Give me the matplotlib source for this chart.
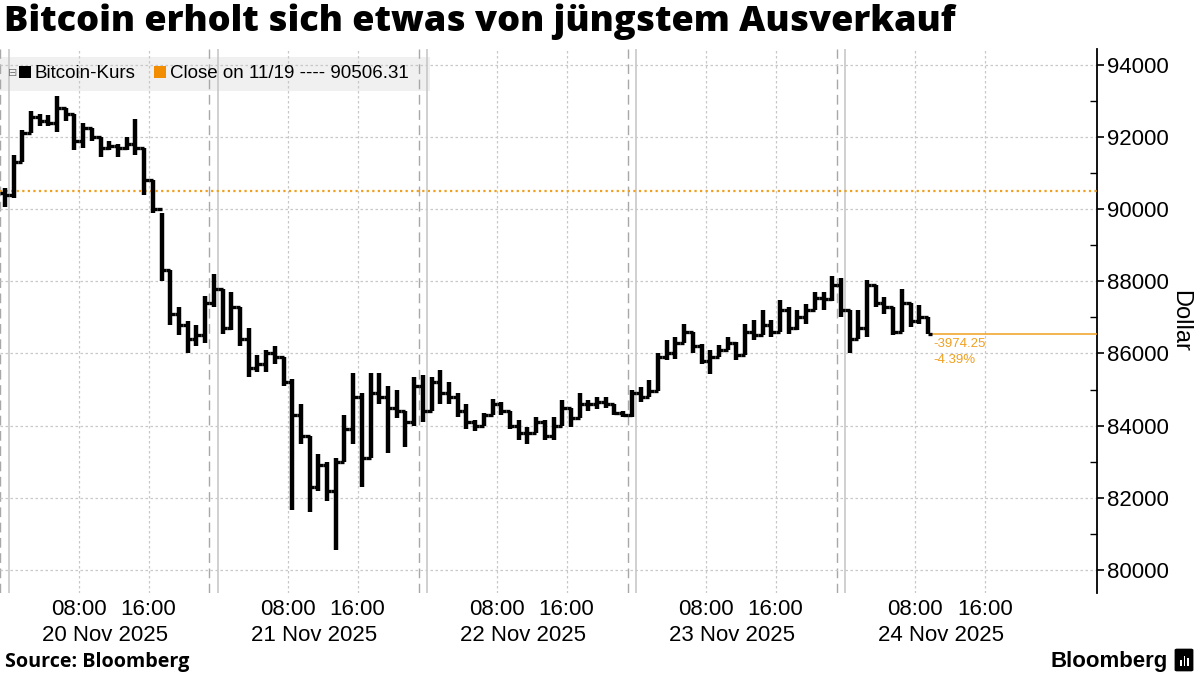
import numpy as np
import matplotlib
matplotlib.use("Agg")
import matplotlib.pyplot as plt
import matplotlib.dates as mdates
from matplotlib.patches import Rectangle, FancyBboxPatch
from datetime import datetime, timedelta

# hourly bars, hour offset from 20 Nov 2025 00:00
hours = list(range(-1, 106))
highs = [90600, 91500, 92200, 92730, 92650, 92600, 93150, 92800, 92650, 92400,
         92250, 92000, 91900, 91800, 92000, 92500, 91700, 90800, 89900, 88300,
         87300, 86900, 86800, 87600, 88200, 87800, 87700, 87300, 86700, 85950,
         86100, 86200, 85900, 85300, 84600, 83700, 83200, 83000, 83100, 84300,
         85450, 84900, 85450, 85450, 85100, 85000, 84400, 85350, 85400, 85350,
         85550, 85200, 84900, 84600, 84150, 84350, 84750, 84650, 84400, 84150,
         83950, 84250, 84150, 84250, 84700, 84500, 84900, 84700, 84800, 84800,
         84600, 84400, 85000, 85075, 85260, 86000, 86370, 86460, 86830, 86600,
         86270, 86090, 86230, 86460, 86320, 86830, 86920, 87200, 86920, 87470,
         87290, 87200, 87380, 87700, 87700, 88160, 88100, 87200, 87200, 88030,
         87900, 87570, 87300, 87800, 87400, 87330, 87000]
lows = [90050, 90300, 91300, 92100, 92300, 92300, 92150, 92450, 91650, 91700,
        91900, 91450, 91650, 91450, 91650, 91500, 90400, 89900, 88000, 86800,
        86500, 86000, 86200, 86300, 87300, 86550, 86650, 86200, 85350, 85500,
        85500, 85700, 85100, 81650, 83500, 81600, 82200, 81900, 80550, 83000,
        83500, 82300, 83100, 84600, 83250, 84200, 83400, 84000, 84100, 84400,
        84600, 84600, 84250, 83900, 83850, 84000, 84300, 84300, 83900, 83600,
        83500, 83800, 83600, 83600, 84000, 83950, 84200, 84400, 84450, 84500,
        84300, 84250, 84250, 84660, 84800, 84950, 85810, 85860, 86300, 86000,
        85720, 85440, 85900, 86100, 85810, 85950, 86370, 86500, 86460, 86600,
        86550, 86640, 86830, 87200, 87200, 87450, 87000, 86000, 86400, 86460,
        87290, 87100, 86500, 86600, 86740, 86830, 86532]
closes = [90400, 91300, 92100, 92550, 92450, 92400, 92800, 92650, 91900, 92250,
          92000, 91700, 91750, 91700, 91800, 91700, 90800, 90000, 88300, 87100,
          86800, 86400, 86500, 87400, 87800, 86700, 87300, 86400, 85600, 85700,
          86000, 85900, 85200, 84300, 83700, 82300, 82900, 82200, 83000, 83900,
          84800, 83100, 84900, 84800, 84500, 84400, 84100, 85100, 84400, 85200,
          84900, 84800, 84400, 84100, 84000, 84300, 84600, 84400, 84000, 83800,
          83800, 84100, 83700, 84000, 84500, 84200, 84600, 84600, 84650, 84600,
          84350, 84300, 84900, 84800, 84950, 85900, 86000, 86300, 86600, 86200,
          85800, 85900, 86100, 86300, 85950, 86600, 86500, 86800, 86600, 87200,
          86700, 87000, 87200, 87550, 87500, 87900, 87200, 86400, 86700, 87900,
          87400, 87300, 86600, 87400, 86900, 87000, 86532]
first_open = 90450
prev_close = 90506.31
change = -3974.25
change_pct = -4.39

day_labels = ["20 Nov 2025", "21 Nov 2025", "22 Nov 2025", "23 Nov 2025", "24 Nov 2025"]
yticks = [80000, 82000, 84000, 86000, 88000, 90000, 92000, 94000]

ORANGE = "#f0a020"
W, H = 1200, 675

def fx(x):
    return x / W

def fy(y):
    return 1 - y / H

t0 = datetime(2025, 11, 20)
centers = np.array([mdates.date2num(t0 + timedelta(hours=h + 0.5)) for h in hours])
half = 0.5 / 24
opens = [first_open] + closes[:-1]

fig = plt.figure(figsize=(12, 6.75), dpi=100)
ax = fig.add_axes([0, fy(593), fx(1097), fy(49) - fy(593)])

# bars
ax.vlines(centers, lows, highs, color="black", lw=3.2, zorder=4)
ax.hlines(opens, centers - half, centers, color="black", lw=2.4, zorder=4)
ax.hlines(closes, centers, centers + half, color="black", lw=2.4, zorder=4)

xmin = mdates.date2num(t0 - timedelta(hours=1.05))
xmax = mdates.date2num(t0 + timedelta(hours=124.9))
ax.set_xlim(xmin, xmax)
ax.set_ylim(79360, 94440)

# reference lines
ax.axhline(prev_close, color=ORANGE, lw=1.6, ls=(0, (1, 1.5)), zorder=3)
t_last = centers[-1] + half
ax.hlines(closes[-1], t_last, xmax, color=ORANGE, lw=1.1, zorder=3)
ax.annotate(f"{change:.2f}", xy=(t_last, closes[-1]), xytext=(1, -3),
            textcoords="offset points", color=ORANGE, fontsize=9.5,
            family="Liberation Sans", ha="left", va="top")
ax.annotate(f"{change_pct:.2f}%", xy=(t_last, closes[-1]), xytext=(1, -14),
            textcoords="offset points", color=ORANGE, fontsize=9.5,
            family="Liberation Sans", ha="left", va="top")

# day separators
for d in range(5):
    ax.axvline(mdates.date2num(t0 + timedelta(days=d)), color="#c4c4c4", lw=1.1, zorder=1)
    ax.axvline(mdates.date2num(t0 + timedelta(days=d, hours=-1)), color="#a8a8a8",
               lw=1.0, ls=(0, (7, 4)), zorder=1)

# x ticks
xt = []
xl = []
for d in range(5):
    for hh in (8, 16):
        xt.append(mdates.date2num(t0 + timedelta(days=d, hours=hh)))
        xl.append(f"{hh:02d}:00")
ax.set_xticks(xt)
ax.set_xticklabels(xl, family="Liberation Sans", fontsize=16)
ax.tick_params(axis="x", length=0, pad=4)
for d, lbl in enumerate(day_labels):
    ax.annotate(lbl, xy=(mdates.date2num(t0 + timedelta(days=d, hours=11)), 0),
                xycoords=("data", "axes fraction"), xytext=(0, -23),
                textcoords="offset points", ha="center", va="top",
                family="Liberation Sans", fontsize=16)

# y axis on right
ax.yaxis.tick_right()
ax.yaxis.set_label_position("right")
ax.set_yticks(yticks)
ax.set_yticklabels([str(v) for v in yticks], family="Liberation Sans", fontsize=16)
ax.set_yticks([v + 1000 for v in yticks[:-1]], minor=True)
ax.tick_params(axis="y", which="major", direction="out", length=5, width=1.2, pad=2)
ax.tick_params(axis="y", which="minor", direction="in", length=5, width=1.0)
ax.set_ylabel("Dollar", rotation=270, family="Liberation Sans", fontsize=17, labelpad=16)

for s in ("left", "top", "bottom"):
    ax.spines[s].set_visible(False)
ax.spines["right"].set_linewidth(1.3)

ax.grid(True, which="major", color="#c8c8c8", lw=0.9, ls=(0, (2, 2)), zorder=1)

# legend box
ax.add_patch(Rectangle((0, (593 - 91) / 544), 430 / 1097, 34 / 544, transform=ax.transAxes,
                       facecolor="#f0f0f0", edgecolor="none", zorder=0.5))
fig.text(fx(8), fy(73), "\u229f", fontsize=8, color="#777777", va="center", ha="left")
fig.patches.append(Rectangle((fx(19), fy(78)), 12 / W, 12 / H, transform=fig.transFigure,
                             facecolor="black", edgecolor="none", zorder=5))
fig.text(fx(35), fy(73), "Bitcoin-Kurs", fontsize=13.5, family="Liberation Sans",
         va="center", ha="left")
fig.patches.append(Rectangle((fx(154), fy(78)), 12 / W, 12 / H, transform=fig.transFigure,
                             facecolor="#f28c00", edgecolor="none", zorder=5))
fig.text(fx(170), fy(73), f"Close on 11/19 ---- {prev_close:.2f}", fontsize=13.5,
         family="Liberation Sans", va="center", ha="left")

# title and footer
fig.text(fx(4), fy(22), "Bitcoin erholt sich etwas von jüngstem Ausverkauf",
         fontsize=26, fontweight="heavy", family="Open Sans", va="center", ha="left")
fig.text(fx(5), fy(662), "Source: Bloomberg", fontsize=14.2, fontweight="bold",
         family="Open Sans", va="center", ha="left")
fig.text(fx(1168), fy(661), "Bloomberg", fontsize=16, fontweight="bold",
         family="Liberation Sans", va="center", ha="right")
fig.patches.append(FancyBboxPatch((fx(1177), fy(670)), 14 / W, 20 / H,
                                  boxstyle="round,pad=0.002", transform=fig.transFigure,
                                  facecolor="black", edgecolor="none"))
for i, hgt in enumerate([6, 10, 8]):
    fig.patches.append(Rectangle((fx(1180 + i * 3.5), fy(666)), 1.6 / W, hgt / H,
                                 transform=fig.transFigure, facecolor="white",
                                 edgecolor="none"))

fig.savefig("out.png", dpi=100)
